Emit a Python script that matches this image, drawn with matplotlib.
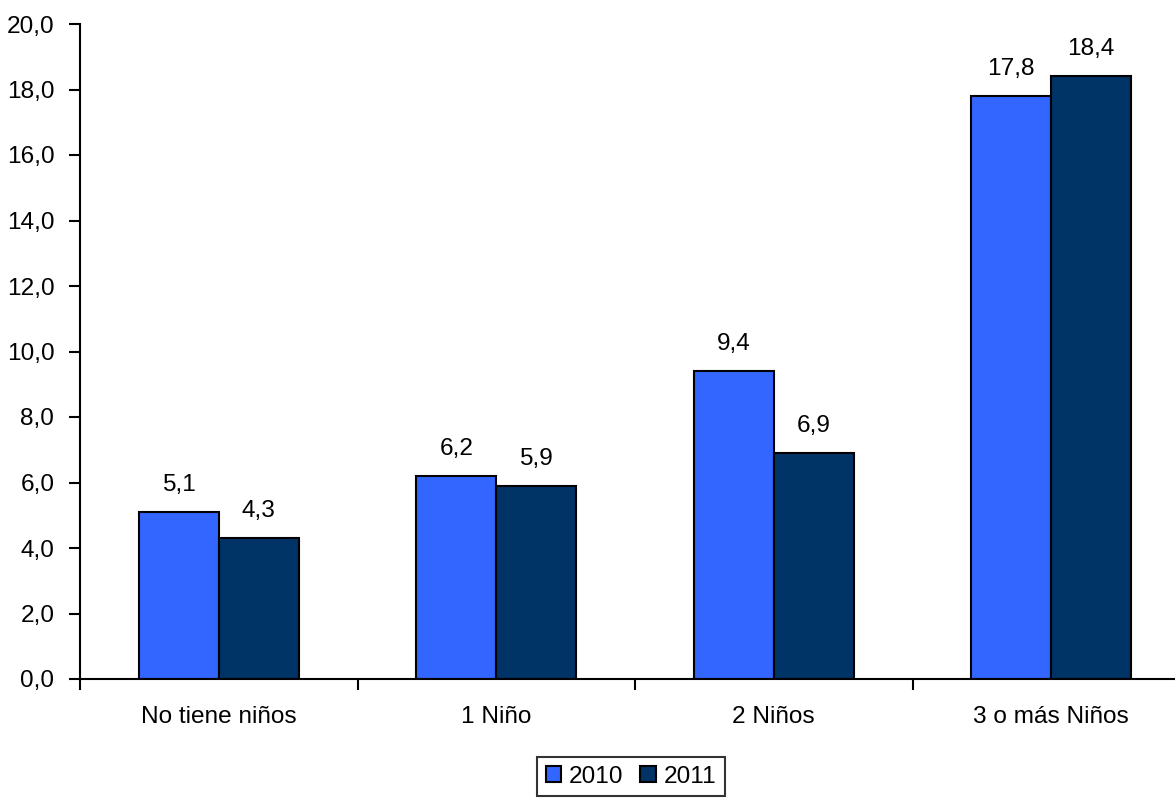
import numpy as np
import matplotlib
matplotlib.use("Agg")
from matplotlib import pyplot as plt
from matplotlib.ticker import FuncFormatter, FixedLocator

categories = ["No tiene niños", "1 Niño", "2 Niños", "3 o más Niños"]
series_names = ["2010", "2011"]
values_2010 = [5.1, 6.2, 9.4, 17.8]
values_2011 = [4.3, 5.9, 6.9, 18.4]
yticks = [0, 2, 4, 6, 8, 10, 12, 14, 16, 18, 20]

plt.rcParams["font.family"] = ["Liberation Sans", "DejaVu Sans"]
FS = 17.6

fig = plt.figure(figsize=(11.75, 7.98), dpi=100)
# plot area runs past the right edge, as in the reference
ax = fig.add_axes([80 / 1175, 1 - 679 / 798, 1110 / 1175, (679 - 24) / 798])

x = np.arange(len(categories))
w = 0.288
colors = ["#3366FF", "#003366"]
for i, (vals, name) in enumerate(zip([values_2010, values_2011], series_names)):
    pos = x + (i - 0.5) * w
    bars = ax.bar(pos, vals, w, color=colors[i], edgecolor="black", linewidth=1.5, label=name)
    for b, v in zip(bars, vals):
        ax.annotate(f"{v:.1f}".replace(".", ","), (b.get_x() + b.get_width() / 2, v),
                    xytext=(0, 11.5), textcoords="offset points",
                    ha="center", va="bottom", fontsize=FS)

ax.set_xlim(-0.5, len(categories) - 0.5)
ax.set_ylim(0, 20)
ax.set_yticks(yticks)
ax.yaxis.set_major_formatter(FuncFormatter(lambda v, p: f"{v:.1f}".replace(".", ",")))
ax.tick_params(axis="y", labelsize=FS, length=8, width=1.5, direction="out", pad=10.5)

# category boundaries as ticks, labels centred
ax.xaxis.set_major_locator(FixedLocator(np.arange(len(categories) + 1) - 0.5))
ax.xaxis.set_minor_locator(FixedLocator(x))
ax.set_xticklabels([])
ax.set_xticklabels(categories, minor=True)
ax.tick_params(axis="x", which="major", length=8, width=1.5, direction="out")
ax.tick_params(axis="x", which="minor", length=0, labelsize=FS, pad=19.5)

for s in ["top", "right"]:
    ax.spines[s].set_visible(False)
for s in ["left", "bottom"]:
    ax.spines[s].set_linewidth(1.5)

leg = fig.legend(loc="upper center", bbox_to_anchor=(631 / 1175, 1 - 757 / 798), ncol=2,
                 fontsize=FS, frameon=True, fancybox=False, handlelength=0.65, handleheight=0.65,
                 handletextpad=0.3, columnspacing=0.7, borderpad=0.35, borderaxespad=0)
leg.get_frame().set_edgecolor("black")
leg.get_frame().set_linewidth(1.5)

fig.savefig("out.png", dpi=100)
